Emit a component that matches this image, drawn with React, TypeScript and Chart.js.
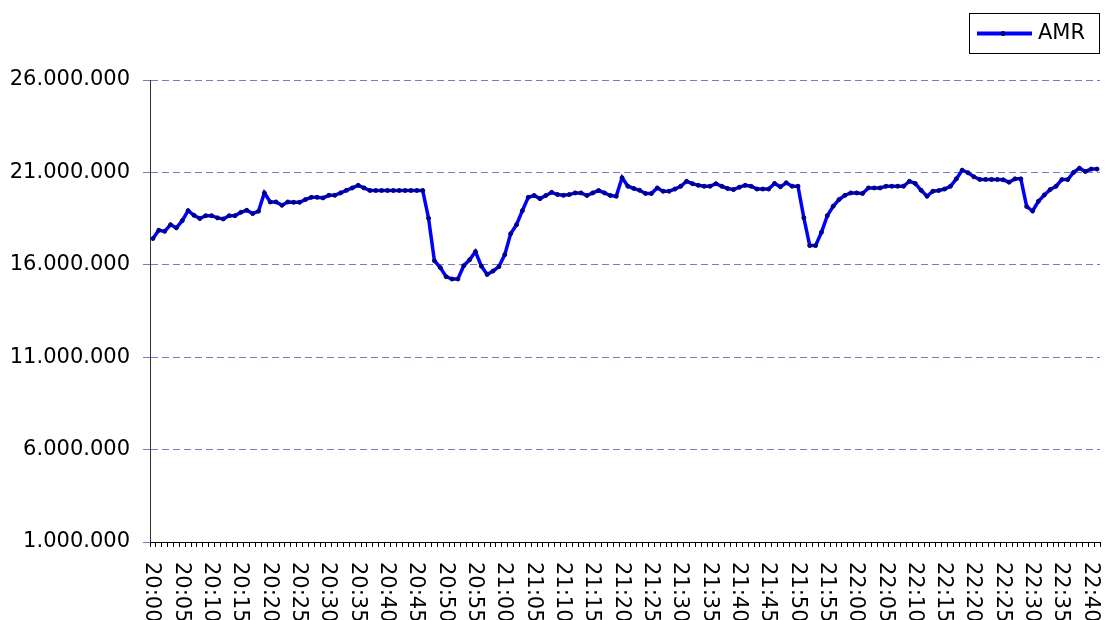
import React, { useEffect, useRef } from 'react';
import { Chart, registerables } from 'chart.js';

Chart.register(...registerables);

// ---- data ----
const seriesName = 'AMR';
const startMinuteOfDay = 20 * 60; // 20:00
const minuteCount = 162; // 20:00 .. 22:41, one sample per minute
const categories: string[] = Array.from({ length: minuteCount }, (_, i) => {
  const t = startMinuteOfDay + i;
  return `${Math.floor(t / 60)}:${String(t % 60).padStart(2, '0')}`;
});
const labelEvery = 5;

const amrValues: number[] = [
  17420000, 17870000, 17810000, 18170000, 18000000, 18390000, 18930000, 18680000, 18500000, 18660000,
  18660000, 18540000, 18480000, 18660000, 18660000, 18840000, 18950000, 18770000, 18900000, 19890000,
  19400000, 19400000, 19220000, 19400000, 19380000, 19380000, 19530000, 19650000, 19650000, 19620000,
  19760000, 19760000, 19890000, 20030000, 20160000, 20300000, 20160000, 20020000, 20020000, 20020000,
  20020000, 20020000, 20020000, 20020000, 20020000, 20020000, 20020000, 18520000, 16220000, 15850000,
  15360000, 15230000, 15230000, 15950000, 16270000, 16710000, 15930000, 15480000, 15660000, 15900000,
  16550000, 17680000, 18170000, 18930000, 19650000, 19750000, 19580000, 19750000, 19920000, 19800000,
  19760000, 19800000, 19890000, 19890000, 19750000, 19890000, 20020000, 19890000, 19750000, 19710000,
  20710000, 20250000, 20130000, 20030000, 19860000, 19860000, 20160000, 19980000, 19980000, 20100000,
  20250000, 20520000, 20390000, 20300000, 20250000, 20250000, 20390000, 20250000, 20130000, 20070000,
  20200000, 20300000, 20250000, 20100000, 20100000, 20100000, 20400000, 20220000, 20440000, 20250000,
  20250000, 18540000, 17040000, 17040000, 17760000, 18660000, 19170000, 19530000, 19760000, 19890000,
  19890000, 19860000, 20160000, 20160000, 20160000, 20250000, 20250000, 20250000, 20250000, 20520000,
  20400000, 20030000, 19710000, 19980000, 20020000, 20100000, 20250000, 20650000, 21120000, 20980000,
  20760000, 20620000, 20620000, 20620000, 20620000, 20600000, 20470000, 20650000, 20650000, 19150000,
  18910000, 19440000, 19780000, 20070000, 20250000, 20610000, 20610000, 21000000, 21230000, 21050000,
  21180000, 21180000,
];

const yMin = 1000000;
const yMax = 26000000;
const yStep = 5000000;

// ---- styles ----
const FONT = '"DejaVu Sans", sans-serif';
const LINE_COLOR = '#0000FF';
const MARKER_COLOR = '#000080';
const GRID_COLOR = '#7A7AC2';

const formatThousands = (v: number) =>
  String(Math.round(v)).replace(/\B(?=(\d{3})+(?!\d))/g, '.');

const xLabelPlugin = {
  id: 'xLabelsRotated',
  afterDraw(chart: any) {
    const ctx = chart.ctx;
    const xs = chart.scales.x;
    ctx.save();
    ctx.font = `21px ${FONT}`;
    ctx.fillStyle = '#000';
    ctx.textAlign = 'left';
    ctx.textBaseline = 'middle';
    categories.forEach((lab, i) => {
      if (i % labelEvery !== 0) return;
      const x = xs.getPixelForValue(i);
      ctx.save();
      ctx.translate(x - 1, xs.top + 20);
      ctx.rotate(Math.PI / 2);
      ctx.fillText(lab, 0, 0);
      ctx.restore();
    });
    ctx.restore();
  },
};

const boxLegendPlugin = {
  id: 'boxLegend',
  afterDraw(chart: any) {
    const ctx = chart.ctx;
    ctx.save();
    ctx.strokeStyle = '#000';
    ctx.lineWidth = 1;
    ctx.strokeRect(969.5, 13.5, 130, 40);
    ctx.strokeStyle = LINE_COLOR;
    ctx.lineWidth = 4;
    ctx.beginPath();
    ctx.moveTo(977, 33.5);
    ctx.lineTo(1032, 33.5);
    ctx.stroke();
    ctx.fillStyle = MARKER_COLOR;
    ctx.beginPath();
    ctx.arc(1003, 33.5, 2.5, 0, Math.PI * 2);
    ctx.fill();
    ctx.fillStyle = '#000';
    ctx.font = `21px ${FONT}`;
    ctx.textAlign = 'left';
    ctx.textBaseline = 'middle';
    ctx.fillText(seriesName, 1038, 34);
    ctx.restore();
  },
};

export default function App() {
  const canvasRef = useRef<HTMLCanvasElement | null>(null);

  useEffect(() => {
    if (!canvasRef.current) return;
    const chart = new Chart(canvasRef.current, {
      type: 'line',
      data: {
        labels: categories,
        datasets: [
          {
            label: seriesName,
            data: amrValues,
            borderColor: LINE_COLOR,
            borderWidth: 3.5,
            pointRadius: 2,
            pointBackgroundColor: MARKER_COLOR,
            pointBorderColor: MARKER_COLOR,
            pointBorderWidth: 1,
            tension: 0,
            fill: false,
          },
        ],
      },
      options: {
        responsive: false,
        animation: false,
        events: [],
        layout: { padding: { top: 80, right: 5, bottom: 0, left: 0 } },
        plugins: {
          legend: { display: false },
          tooltip: { enabled: false },
          title: { display: false },
        },
        scales: {
          x: {
            type: 'category',
            offset: true,
            grid: {
              display: true,
              drawOnChartArea: false,
              drawTicks: true,
              tickLength: 5,
              color: '#000',
              offset: true,
              lineWidth: 1,
            },
            border: { display: true, color: '#000', width: 1 },
            ticks: { display: false, autoSkip: false },
            afterFit: (s: any) => {
              s.height = 78;
            },
          },
          y: {
            min: yMin,
            max: yMax,
            ticks: {
              stepSize: yStep,
              color: '#000',
              padding: 13,
              font: { family: FONT, size: 21 },
              callback: (v: any) => formatThousands(Number(v)),
            },
            grid: {
              color: GRID_COLOR,
              lineWidth: 1,
              drawTicks: true,
              tickLength: 7,
              tickColor: GRID_COLOR,
              tickBorderDash: [],
            },
            border: { display: true, color: '#333', width: 1, dash: [7, 4] },
            afterFit: (s: any) => {
              s.width = 150;
            },
          },
        },
      },
      plugins: [xLabelPlugin, boxLegendPlugin],
    });
    return () => chart.destroy();
  }, []);

  return (
    <div style={{ position: 'fixed', left: 0, top: 0, width: 1105, height: 620, background: '#fff' }}>
      <canvas ref={canvasRef} width={1105} height={620} style={{ display: 'block' }} />
    </div>
  );
}
